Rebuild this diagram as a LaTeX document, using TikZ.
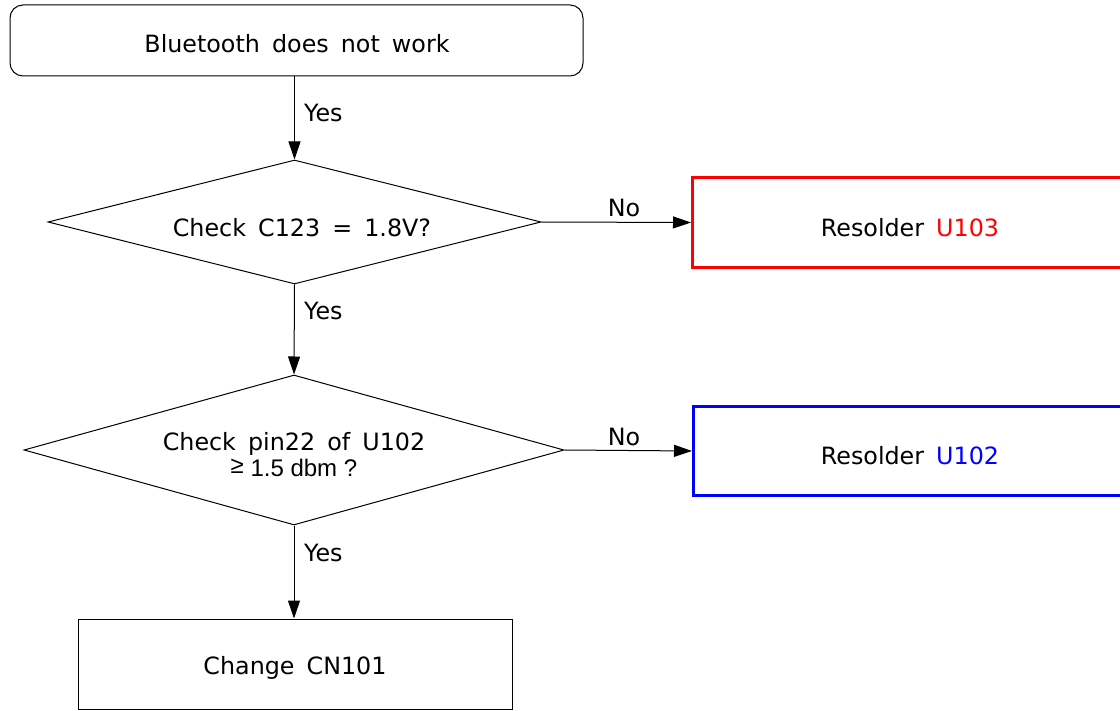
\documentclass[tikz,border=0pt]{standalone}
\usepackage{fontspec}
\setmainfont[WordSpace=1.6]{DejaVu Sans}
\newfontfamily\arialf{Liberation Sans}
\usetikzlibrary{shapes.geometric,arrows.meta}
\begin{document}
\begin{tikzpicture}[x=1pt,y=-1pt,
  every node/.style={font=\fontsize{23.8}{28}\selectfont},
  conn/.style={line width=1pt,-{Triangle[length=18pt,width=12pt]}},
  plainbox/.style={draw,line width=1pt,rectangle,inner sep=0pt},
  decision/.style={draw,line width=1pt,diamond,inner sep=0pt},
  lbl/.style={inner sep=0pt}]
\useasboundingbox (0,0) rectangle (1120,711);
% nodes
\node[plainbox,rounded corners=13pt,minimum width=573pt,minimum height=71pt] (start) at (296.5,40.5) {};
\node[lbl] (t0) at (297,44) {Bluetooth does not work};
\node[decision,minimum width=493pt,minimum height=124pt] (d1) at (294.5,222) {};
\node[lbl] (t1) at (302,228) {Check C123 = 1.8V?};
\node[decision,minimum width=540pt,minimum height=150pt] (d2) at (294,450) {};
\node[lbl,align=center] (t2) at (294,455) {Check pin22 of U102\\[-2pt]{\arialf\fontsize{24}{28}\selectfont \raisebox{3pt}{≥} 1.5 dbm ?}};
\node[plainbox,draw=red,line width=3pt,minimum width=440pt,minimum height=90pt] (r1) at (912.5,222.5) {};
\node[lbl] (t4) at (910,228) {Resolder \textcolor{red}{U103}};
\node[plainbox,draw=blue,line width=3pt,minimum width=440pt,minimum height=89pt] (r2) at (913.5,451) {};
\node[lbl] (t5) at (910,456) {Resolder \textcolor{blue}{U102}};
\node[plainbox,minimum width=434pt,minimum height=90pt] (end) at (295,664) {};
\node[lbl] (t3) at (295,668) {Change CN101};
% connectors
\draw[conn] (start.south -| d1.north) -- (d1.north);
\draw[conn] (d1.south) -- (d2.north);
\draw[conn] (d2.south) -- (end.north -| d2.south);
\draw[conn] (d1.east) -- (r1.west);
\draw[conn] (d2.east) -- (r2.west);
% labels
\node[lbl,anchor=west] (y1) at (304,113) {Yes};
\node[lbl,anchor=west] (y2) at (304,311) {Yes};
\node[lbl,anchor=west] (y3) at (304,553) {Yes};
\node[lbl] (n1) at (624,208) {No};
\node[lbl] (n2) at (624,437) {No};
\end{tikzpicture}
\end{document}
